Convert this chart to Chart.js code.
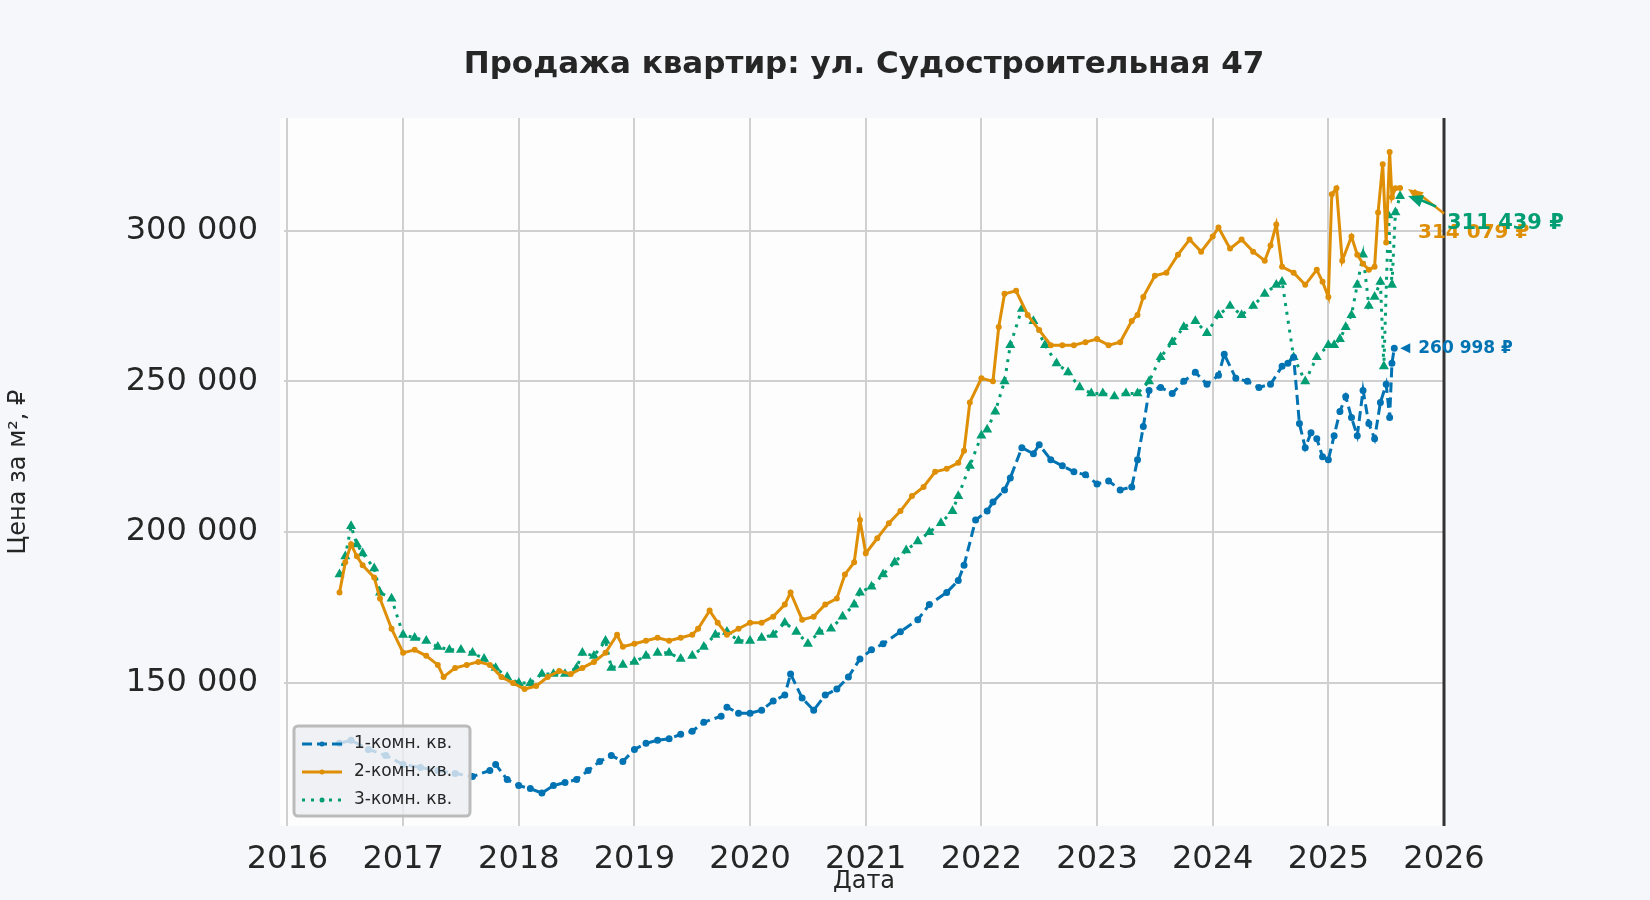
<!DOCTYPE html>
<html>
<head>
<meta charset="utf-8">
<script src="https://cdn.jsdelivr.net/npm/chart.js@4"></script>
<style>
  html, body { margin: 0; padding: 0; background: #f5f7fa; }
  #wrap { width: 1650px; height: 900px; }
</style>
</head>
<body>
<div id="wrap"><canvas id="chart" width="1650" height="900"></canvas></div>
<script>
// Dates as decimal years
const years1 = [2016.45, 2016.55, 2016.7, 2016.85, 2017.0, 2017.15, 2017.3, 2017.45, 2017.6, 2017.75, 2017.8, 2017.9, 2018.0, 2018.1, 2018.2, 2018.3, 2018.4, 2018.5, 2018.6, 2018.7, 2018.8, 2018.9, 2019.0, 2019.1, 2019.2, 2019.3, 2019.4, 2019.5, 2019.6, 2019.75, 2019.8, 2019.9, 2020.0, 2020.1, 2020.2, 2020.3, 2020.35, 2020.45, 2020.55, 2020.65, 2020.75, 2020.85, 2020.95, 2021.05, 2021.15, 2021.3, 2021.45, 2021.55, 2021.7, 2021.8, 2021.85, 2021.95, 2022.05, 2022.1, 2022.2, 2022.25, 2022.35, 2022.45, 2022.5, 2022.6, 2022.7, 2022.8, 2022.9, 2023.0, 2023.1, 2023.2, 2023.3, 2023.35, 2023.4, 2023.45, 2023.55, 2023.65, 2023.75, 2023.85, 2023.95, 2024.05, 2024.1, 2024.2, 2024.3, 2024.4, 2024.5, 2024.6, 2024.65, 2024.7, 2024.75, 2024.8, 2024.85, 2024.9, 2024.95, 2025.0, 2025.05, 2025.1, 2025.15, 2025.2, 2025.25, 2025.3, 2025.35, 2025.4, 2025.45, 2025.5, 2025.53, 2025.55, 2025.57];
const oneRoom = [130000, 131000, 128000, 126000, 123000, 122000, 121000, 120000, 119000, 121000, 123000, 118000, 116000, 115000, 113500, 116000, 117000, 118000, 121000, 124000, 126000, 124000, 128000, 130000, 131000, 131500, 133000, 134000, 137000, 139000, 142000, 140000, 140000, 141000, 144000, 146000, 153000, 145000, 141000, 146000, 148000, 152000, 158000, 161000, 163000, 167000, 171000, 176000, 180000, 184000, 189000, 204000, 207000, 210000, 214000, 218000, 228000, 226000, 229000, 224000, 222000, 220000, 219000, 216000, 217000, 214000, 215000, 224000, 235000, 247000, 248000, 246000, 250000, 253000, 249000, 252000, 259000, 251000, 250000, 248000, 249000, 255000, 256000, 258000, 236000, 228000, 233000, 231000, 225000, 224000, 232000, 240000, 245000, 238000, 232000, 247000, 236000, 231000, 243000, 249000, 238000, 256000, 260998];

const years2 = [2016.45, 2016.5, 2016.55, 2016.6, 2016.65, 2016.75, 2016.8, 2016.9, 2017.0, 2017.1, 2017.2, 2017.3, 2017.35, 2017.45, 2017.55, 2017.65, 2017.75, 2017.85, 2017.95, 2018.05, 2018.15, 2018.25, 2018.35, 2018.45, 2018.55, 2018.65, 2018.75, 2018.85, 2018.9, 2019.0, 2019.1, 2019.2, 2019.3, 2019.4, 2019.5, 2019.55, 2019.65, 2019.72, 2019.8, 2019.9, 2020.0, 2020.1, 2020.2, 2020.3, 2020.35, 2020.45, 2020.55, 2020.65, 2020.75, 2020.82, 2020.9, 2020.95, 2021.0, 2021.1, 2021.2, 2021.3, 2021.4, 2021.5, 2021.6, 2021.7, 2021.8, 2021.85, 2021.9, 2022.0, 2022.1, 2022.15, 2022.2, 2022.3, 2022.4, 2022.5, 2022.6, 2022.7, 2022.8, 2022.9, 2023.0, 2023.1, 2023.2, 2023.3, 2023.35, 2023.4, 2023.5, 2023.6, 2023.7, 2023.8, 2023.9, 2024.0, 2024.05, 2024.15, 2024.25, 2024.35, 2024.45, 2024.5, 2024.55, 2024.6, 2024.7, 2024.8, 2024.9, 2024.95, 2025.0, 2025.03, 2025.07, 2025.12, 2025.2, 2025.25, 2025.3, 2025.35, 2025.4, 2025.43, 2025.47, 2025.5, 2025.53, 2025.55, 2025.58, 2025.62];
const twoRoom = [180000, 190000, 196000, 192000, 189000, 185000, 178000, 168000, 160000, 161000, 159000, 156000, 152000, 155000, 156000, 157000, 156000, 152000, 150000, 148000, 149000, 152000, 154000, 153000, 155000, 157000, 160000, 166000, 162000, 163000, 164000, 165000, 164000, 165000, 166000, 168000, 174000, 170000, 166000, 168000, 170000, 170000, 172000, 176000, 180000, 171000, 172000, 176000, 178000, 186000, 190000, 204000, 193000, 198000, 203000, 207000, 212000, 215000, 220000, 221000, 223000, 227000, 243000, 251000, 250000, 268000, 279000, 280000, 272000, 267000, 262000, 262000, 262000, 263000, 264000, 262000, 263000, 270000, 272000, 278000, 285000, 286000, 292000, 297000, 293000, 298000, 301000, 294000, 297000, 293000, 290000, 295000, 302000, 288000, 286000, 282000, 287000, 283000, 278000, 312000, 314000, 290000, 298000, 292000, 289000, 287000, 288000, 306000, 322000, 296000, 326000, 311000, 314000, 314079];

const years3 = [2016.45, 2016.5, 2016.55, 2016.6, 2016.65, 2016.75, 2016.8, 2016.9, 2017.0, 2017.1, 2017.2, 2017.3, 2017.4, 2017.5, 2017.6, 2017.7, 2017.8, 2017.9, 2018.0, 2018.1, 2018.2, 2018.3, 2018.4, 2018.5, 2018.55, 2018.65, 2018.75, 2018.8, 2018.9, 2019.0, 2019.1, 2019.2, 2019.3, 2019.4, 2019.5, 2019.6, 2019.7, 2019.8, 2019.9, 2020.0, 2020.1, 2020.2, 2020.3, 2020.4, 2020.5, 2020.6, 2020.7, 2020.8, 2020.9, 2020.95, 2021.05, 2021.15, 2021.25, 2021.35, 2021.45, 2021.55, 2021.65, 2021.75, 2021.8, 2021.9, 2022.0, 2022.05, 2022.12, 2022.2, 2022.25, 2022.35, 2022.45, 2022.55, 2022.65, 2022.75, 2022.85, 2022.95, 2023.05, 2023.15, 2023.25, 2023.35, 2023.45, 2023.55, 2023.65, 2023.75, 2023.85, 2023.95, 2024.05, 2024.15, 2024.25, 2024.35, 2024.45, 2024.55, 2024.6, 2024.7, 2024.8, 2024.9, 2025.0, 2025.05, 2025.1, 2025.15, 2025.2, 2025.25, 2025.3, 2025.35, 2025.4, 2025.45, 2025.48, 2025.52, 2025.55, 2025.58, 2025.62];
const threeRoom = [186000, 192000, 202000, 196000, 193000, 188000, 180000, 178000, 166000, 165000, 164000, 162000, 161000, 161000, 160000, 158000, 155000, 152000, 150000, 150000, 153000, 153000, 153000, 155000, 160000, 159000, 164000, 155000, 156000, 157000, 159000, 160000, 160000, 158000, 159000, 162000, 166000, 167000, 164000, 164000, 165000, 166000, 170000, 167000, 163000, 167000, 168000, 172000, 176000, 180000, 182000, 186000, 190000, 194000, 197000, 200000, 203000, 207000, 212000, 222000, 232000, 234000, 240000, 250000, 262000, 274000, 270000, 262000, 256000, 253000, 248000, 246000, 246000, 245000, 246000, 246000, 250000, 258000, 263000, 268000, 270000, 266000, 272000, 275000, 272000, 275000, 279000, 282000, 283000, 258000, 250000, 258000, 262000, 262000, 264000, 268000, 272000, 282000, 292000, 275000, 278000, 283000, 255000, 305000, 282000, 306000, 311439];

const yTicks = [150000, 200000, 250000, 300000];
const seriesNames = ['1-комн. кв.', '2-комн. кв.', '3-комн. кв.'];
const colors = ['#0173b2', '#de8f05', '#029e73'];
const titleText = 'Продажа квартир: ул. Судостроительная 47';

const toPoints = (xs, ys) => xs.map((x, i) => ({ x: x, y: ys[i] }));
const fmt = (v) => String(Math.round(v)).replace(/\B(?=(\d{3})+(?!\d))/g, ' ');

const arrowHead = (ctx, fx, fy, tx, ty) => {
    const ang = Math.atan2(fy - ty, fx - tx);
    ctx.beginPath();
    ctx.moveTo(tx, ty);
    ctx.lineTo(tx + 16 * Math.cos(ang - 0.4), ty + 16 * Math.sin(ang - 0.4));
    ctx.lineTo(tx + 16 * Math.cos(ang + 0.4), ty + 16 * Math.sin(ang + 0.4));
    ctx.fill();
};

// White plot area, title, dark right edge, last value labels
const extras = {
    id: 'extras',
    beforeDraw(chart) {
        const a = chart.chartArea;
        const ctx = chart.ctx;
        ctx.save();
        ctx.fillStyle = '#fdfdfe';
        ctx.fillRect(a.left - 4, a.top, a.right - a.left + 4, a.bottom - a.top);
        ctx.fillStyle = '#262626';
        ctx.font = 'bold 31px "DejaVu Sans"';
        ctx.textAlign = 'center';
        ctx.textBaseline = 'middle';
        ctx.fillText(titleText, (a.left + a.right) / 2, 65);
        ctx.restore();
    },
    afterDatasetsDraw(chart) {
        const a = chart.chartArea;
        const ctx = chart.ctx;
        const xs = chart.scales.x, ys = chart.scales.y;
        const y300 = ys.getPixelForValue(300000);
        ctx.save();
        ctx.strokeStyle = '#333';
        ctx.lineWidth = 3;
        ctx.beginPath();
        ctx.moveTo(a.right, a.top);
        ctx.lineTo(a.right, a.bottom);
        ctx.stroke();
        ctx.textBaseline = 'middle';
        ctx.lineWidth = 2.5;

        // 2-room
        let px = xs.getPixelForValue(years2[years2.length - 1]);
        let py = ys.getPixelForValue(twoRoom[twoRoom.length - 1]);
        ctx.strokeStyle = colors[1];
        ctx.fillStyle = colors[1];
        ctx.beginPath();
        ctx.moveTo(a.right, y300 - 17);
        ctx.lineTo(px + 14, py + 2);
        ctx.stroke();
        arrowHead(ctx, a.right, y300 - 17, px + 8, py + 1);
        ctx.font = 'bold 20px "DejaVu Sans"';
        ctx.fillText(fmt(twoRoom[twoRoom.length - 1]) + ' ₽', a.right - 26, y300 + 2);

        // 3-room
        px = xs.getPixelForValue(years3[years3.length - 1]);
        py = ys.getPixelForValue(threeRoom[threeRoom.length - 1]);
        ctx.strokeStyle = colors[2];
        ctx.fillStyle = colors[2];
        ctx.beginPath();
        ctx.moveTo(a.right - 8, y300 - 24);
        ctx.lineTo(px + 16, py + 2);
        ctx.stroke();
        arrowHead(ctx, a.right - 8, y300 - 24, px + 8, py);
        ctx.font = 'bold 21px "DejaVu Sans"';
        ctx.fillText(fmt(threeRoom[threeRoom.length - 1]) + ' ₽', a.right + 3, y300 - 7);

        // 1-room
        px = xs.getPixelForValue(years1[years1.length - 1]);
        py = ys.getPixelForValue(oneRoom[oneRoom.length - 1]);
        ctx.fillStyle = colors[0];
        ctx.beginPath();
        ctx.moveTo(px + 6, py);
        ctx.lineTo(px + 16, py - 5);
        ctx.lineTo(px + 16, py + 5);
        ctx.fill();
        ctx.font = 'bold 17px "DejaVu Sans"';
        ctx.fillText(fmt(oneRoom[oneRoom.length - 1]) + ' ₽', px + 24, py);
        ctx.restore();
    }
};

new Chart(document.getElementById('chart'), {
    type: 'line',
    data: {
        datasets: [
            {
                label: seriesNames[0], data: toPoints(years1, oneRoom),
                borderColor: colors[0], backgroundColor: colors[0], borderWidth: 3,
                borderDash: [10, 5], pointRadius: 2, pointStyle: 'circle', tension: 0
            },
            {
                label: seriesNames[1], data: toPoints(years2, twoRoom),
                borderColor: colors[1], backgroundColor: colors[1], borderWidth: 3,
                pointRadius: 1.5, pointStyle: 'circle', tension: 0
            },
            {
                label: seriesNames[2], data: toPoints(years3, threeRoom),
                borderColor: colors[2], backgroundColor: colors[2], borderWidth: 3,
                borderDash: [3, 6], pointRadius: 2.8, pointStyle: 'triangle', tension: 0
            }
        ]
    },
    options: {
        responsive: false,
        animation: false,
        layout: { padding: { left: 0, right: 206, top: 118, bottom: 0 } },
        plugins: {
            title: { display: false },
            legend: { display: false },
            tooltip: { enabled: false }
        },
        scales: {
            x: {
                type: 'linear',
                min: 2015.97,
                max: 2026,
                afterBuildTicks: (s) => { s.ticks = [2016, 2017, 2018, 2019, 2020, 2021, 2022, 2023, 2024, 2025, 2026].map((v) => ({ value: v })); },
                ticks: { color: '#262626', font: { family: 'DejaVu Sans', size: 32 }, padding: 14, maxRotation: 0, callback: (v) => String(v) },
                grid: { color: '#d0d0d0', lineWidth: 2, drawTicks: false },
                border: { display: false },
                title: { display: true, text: 'Дата', color: '#262626', font: { family: 'DejaVu Sans', size: 24 }, padding: { top: 14 } },
                afterFit: (s) => { s.height = 74; }
            },
            y: {
                min: 102600,
                max: 337300,
                afterBuildTicks: (s) => { s.ticks = yTicks.map((v) => ({ value: v })); },
                ticks: { color: '#262626', font: { family: 'DejaVu Sans', size: 32 }, padding: 26, callback: (v) => fmt(v) },
                grid: { color: '#d0d0d0', lineWidth: 2, drawTicks: false },
                border: { display: false },
                title: { display: true, text: 'Цена за м², ₽', color: '#262626', font: { family: 'DejaVu Sans', size: 24 }, padding: { bottom: 0 } },
                afterFit: (s) => { s.width = 284; }
            }
        }
    },
    plugins: [extras, {
        id: 'legendBox',
        afterDraw(chart) {
            const ctx = chart.ctx;
            const a = chart.chartArea;
            const x0 = a.left + 10, y0 = a.bottom - 100, w = 176, h = 90;
            ctx.save();
            ctx.fillStyle = 'rgba(236,238,243,0.8)';
            ctx.strokeStyle = '#bbbbbb';
            ctx.lineWidth = 3;
            ctx.beginPath();
            ctx.roundRect(x0, y0, w, h, 4);
            ctx.fill();
            ctx.stroke();
            const dashes = [[10, 5], [], [3, 6]];
            seriesNames.forEach((name, i) => {
                const ly = y0 + 18 + i * 28;
                ctx.strokeStyle = colors[i];
                ctx.fillStyle = colors[i];
                ctx.lineWidth = 3;
                ctx.setLineDash(dashes[i]);
                ctx.beginPath();
                ctx.moveTo(x0 + 8, ly);
                ctx.lineTo(x0 + 48, ly);
                ctx.stroke();
                ctx.setLineDash([]);
                ctx.beginPath();
                ctx.arc(x0 + 28, ly, 2.5, 0, Math.PI * 2);
                ctx.fill();
                ctx.fillStyle = '#262626';
                ctx.font = '17px "DejaVu Sans"';
                ctx.textBaseline = 'middle';
                ctx.fillText(name, x0 + 60, ly);
            });
            ctx.restore();
        }
    }]
});
</script>
</body>
</html>
